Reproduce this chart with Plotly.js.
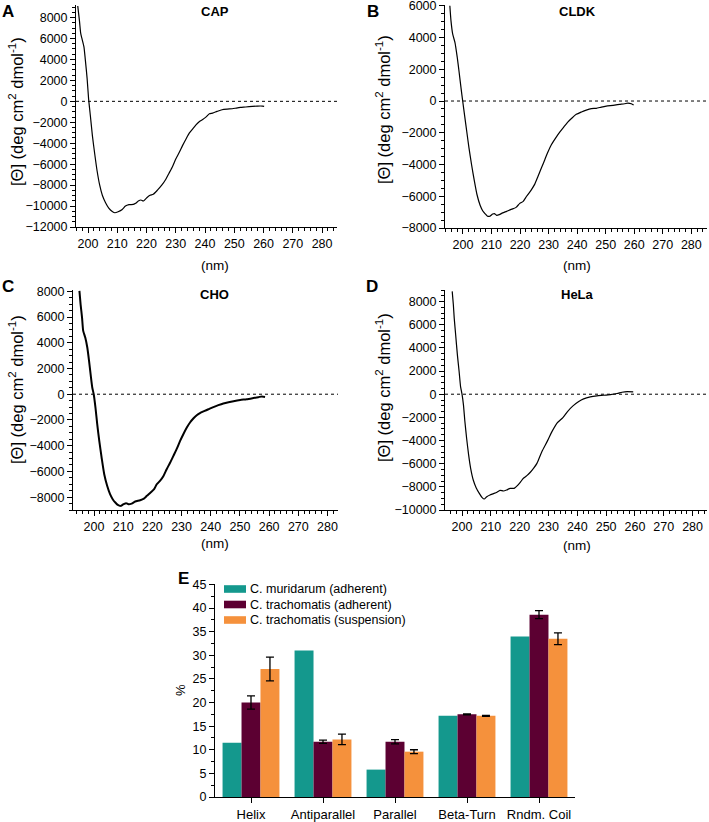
<!DOCTYPE html>
<html>
<head>
<meta charset="utf-8">
<script src="https://cdn.plot.ly/plotly-3.0.1.min.js"></script>
<style>
html,body{margin:0;padding:0;background:#fff;}
#chart{width:709px;height:822px;}
</style>
</head>
<body>
<div id="chart"></div>
<script>
// ---------- Data ----------
const capNm = [196.5,197.1,197.5,197.9,198.6,199.1,199.7,200.2,200.8,201.5,202.3,203.1,204.0,204.9,206.0,207.1,208.3,209.2,210.3,211.7,212.8,214.0,215.5,216.3,217.2,218.1,218.9,220.1,221.2,222.3,223.8,225.2,226.6,227.7,228.9,230.0,231.2,232.3,233.5,234.6,235.8,236.9,238.1,239.2,240.3,241.5,242.6,244.1,245.8,247.6,249.3,250.7,252.1,253.9,256.2,257.9,259.6,260.2];
const capTheta = [9100,7630,6510,6030,5220,3940,2180,260,-1350,-3270,-5030,-6630,-8010,-8970,-9680,-10190,-10510,-10640,-10540,-10320,-10000,-9870,-9840,-9740,-9520,-9420,-9520,-9200,-8970,-8880,-8460,-8010,-7440,-6860,-6220,-5510,-4870,-4230,-3590,-3040,-2630,-2240,-1920,-1730,-1510,-1190,-1120,-960,-800,-740,-710,-640,-580,-540,-480,-450,-450,-480];

const cldkNm = [195.4,195.8,196.4,197.2,198.0,198.6,199.3,199.9,200.6,201.3,202.1,203.0,204.0,204.9,206.0,206.9,207.7,208.6,209.4,210.4,211.0,211.8,212.7,213.9,215.3,216.7,217.6,218.6,219.9,221.1,222.3,224.0,225.2,226.3,227.5,228.7,229.8,231.0,232.5,233.9,235.3,236.8,238.3,239.7,241.5,243.2,245.0,246.7,248.5,250.2,252.6,254.9,256.6,257.8,259.0,259.8];
const cldkTheta = [6000,5050,4210,3680,2740,1890,840,0,-950,-1890,-2950,-4000,-5050,-5890,-6570,-6910,-7090,-7260,-7260,-7120,-7090,-7200,-7160,-7050,-6950,-6840,-6780,-6700,-6450,-6320,-6000,-5580,-5220,-4740,-4210,-3680,-3200,-2740,-2320,-1960,-1640,-1310,-1050,-840,-690,-570,-480,-460,-380,-320,-270,-210,-170,-130,-170,-250];

const choNm = [195.0,195.4,195.9,196.3,197.0,197.7,198.3,198.9,199.4,199.9,200.5,201.1,201.8,202.6,203.5,204.5,205.5,206.4,207.3,208.3,209.1,210.1,211.0,211.8,212.9,214.1,215.8,217.1,218.1,219.4,220.6,221.5,222.6,223.8,224.9,226.1,227.2,228.3,229.5,230.6,231.8,232.9,234.1,235.2,236.3,237.7,239.2,240.9,242.6,244.3,246.1,247.8,250.1,252.3,254.6,256.3,257.5,258.6];
const choTheta = [8030,6990,5960,4920,4400,3630,2590,1420,520,0,-1040,-2330,-3630,-4920,-6220,-7120,-7770,-8160,-8420,-8630,-8680,-8550,-8470,-8550,-8500,-8340,-8240,-8110,-7900,-7640,-7380,-7000,-6740,-6350,-5830,-5310,-4790,-4270,-3630,-3110,-2590,-2200,-1870,-1640,-1470,-1320,-1170,-1000,-850,-720,-620,-540,-450,-390,-300,-230,-170,-210];

const helaNm = [196.6,197.0,197.3,197.8,198.4,199.0,199.5,200.0,200.5,201.0,201.6,202.3,203.0,203.9,204.9,206.0,207.0,207.7,208.6,209.7,210.9,212.1,213.2,214.4,215.5,216.7,218.1,219.2,220.2,221.3,222.5,223.7,224.8,226.0,227.7,229.7,231.2,232.9,235.0,236.6,238.5,240.5,242.2,244.5,246.8,249.2,251.5,253.8,255.5,257.3,259.4];
const helaTheta = [8880,7720,6570,5130,3400,1960,660,0,-920,-2360,-3800,-5240,-6400,-7410,-8070,-8560,-8930,-9050,-8850,-8700,-8590,-8470,-8300,-8360,-8270,-8130,-8130,-7900,-7610,-7260,-7030,-6740,-6400,-5970,-4960,-4010,-3230,-2510,-2020,-1500,-1010,-630,-400,-230,-140,-90,-30,60,170,230,200];

const categories = ['Helix','Antiparallel','Parallel','Beta-Turn','Rndm. Coil'];
const muridarumAdh = [11.5, 31.0, 5.8, 17.2, 34.0];
const trachomatisAdh = [20.0, 11.7, 11.7, 17.5, 38.6];
const trachomatisAdhErr = [1.4, 0.35, 0.45, 0.1, 0.85];
const trachomatisSusp = [27.1, 12.2, 9.6, 17.2, 33.5];
const trachomatisSuspErr = [2.5, 1.1, 0.4, 0.1, 1.25];
const seriesNames = ['C. muridarum (adherent)','C. trachomatis (adherent)','C. trachomatis (suspension)'];
const seriesColors = ['#14988d','#5c0032','#f5913c'];

// ---------- Layout helpers ----------
const W = 709, H = 822;
const fx = p => p / W;
const fy = p => 1 - p / H;
const FONT = 'Liberation Sans, Arial, sans-serif';

function cdXAxis(l, r, range, anchor) {
  return {
    domain: [fx(l), fx(r)], range: range, anchor: anchor,
    showline: true, linecolor: 'black', linewidth: 1,
    ticks: 'outside', ticklen: 5, tickwidth: 1, tickcolor: 'black',
    tick0: 200, dtick: 10, showgrid: false, zeroline: false,
    tickfont: {size: 12.5, color: 'black', family: FONT},
    minor: {dtick: 2, ticklen: 3, tickwidth: 1, tickcolor: 'black', ticks: 'outside', showgrid: false}
  };
}
function cdYAxis(top, bottom, range, anchor) {
  return {
    domain: [fy(bottom), fy(top)], range: range, anchor: anchor,
    showline: true, linecolor: 'black', linewidth: 1,
    ticks: 'outside', ticklen: 5, tickwidth: 1, tickcolor: 'black',
    tick0: 0, dtick: 2000, tickformat: 'd', showgrid: false, zeroline: false,
    ticklabeloverflow: 'allow',
    tickfont: {size: 12.5, color: 'black', family: FONT},
    minor: {dtick: 500, ticklen: 3, tickwidth: 1, tickcolor: 'black', ticks: 'outside', showgrid: false}
  };
}

function cdTrace(x, y, xa, ya, w) {
  return {x: x, y: y, xaxis: xa, yaxis: ya, type: 'scatter', mode: 'lines',
    line: {color: 'black', width: w, shape: 'spline', smoothing: 0.6},
    showlegend: false, hoverinfo: 'skip'};
}

const traces = [
  cdTrace(capNm, capTheta, 'x', 'y', 1.2),
  cdTrace(cldkNm, cldkTheta, 'x2', 'y2', 1.2),
  cdTrace(choNm, choTheta, 'x3', 'y3', 2),
  cdTrace(helaNm, helaTheta, 'x4', 'y4', 1.2)
];

const barY = [muridarumAdh, trachomatisAdh, trachomatisSusp];
const barErr = [null, trachomatisAdhErr, trachomatisSuspErr];
for (let i = 0; i < 3; i++) {
  const t = {
    type: 'bar', x: categories, y: barY[i], name: seriesNames[i],
    xaxis: 'x5', yaxis: 'y5', marker: {color: seriesColors[i], line: {width: 0}},
    showlegend: false, hoverinfo: 'skip'
  };
  if (barErr[i]) t.error_y = {type: 'data', array: barErr[i], visible: true, color: 'black', thickness: 1.3, width: 4};
  traces.push(t);
}

function zeroLine(xa, ya) {
  return {type: 'line', xref: xa + ' domain', yref: ya, x0: 0, x1: 1, y0: 0, y1: 0,
    line: {color: 'black', width: 1, dash: 'dot'}};
}

function ann(text, px, py, size, opts) {
  return Object.assign({text: text, x: fx(px), y: fy(py), xref: 'paper', yref: 'paper',
    xanchor: 'center', yanchor: 'middle', showarrow: false,
    font: {size: size, color: 'black', family: FONT}}, opts || {});
}

const yTitle = '[Θ] (deg cm<sup>2</sup> dmol<sup>-1</sup>)';
const annotations = [
  ann('<b>A</b>', 8, 12, 17), ann('<b>B</b>', 373, 12, 17),
  ann('<b>C</b>', 8, 287, 17), ann('<b>D</b>', 372, 287, 17),
  ann('<b>E</b>', 183, 578, 17),
  ann('<b>CAP</b>', 215, 12, 13), ann('<b>CLDK</b>', 577, 12, 13),
  ann('<b>CHO</b>', 215, 295, 13), ann('<b>HeLa</b>', 577, 295, 13),
  ann('(nm)', 215, 265, 13.5), ann('(nm)', 577, 265, 13.5),
  ann('(nm)', 215, 543, 13.5), ann('(nm)', 577, 545, 13.5),
  ann(yTitle, 16, 112, 16.5, {textangle: -90}),
  ann(yTitle, 383, 110, 16.5, {textangle: -90}),
  ann(yTitle, 16, 390, 16.5, {textangle: -90}),
  ann(yTitle, 383, 388, 16.5, {textangle: -90}),
  ann('%', 180, 690, 13, {textangle: -90})
];

const shapes = [zeroLine('x', 'y'), zeroLine('x2', 'y2'), zeroLine('x3', 'y3'), zeroLine('x4', 'y4')];

// custom legend for panel E
const legendRows = [589, 604.5, 620];
for (let i = 0; i < 3; i++) {
  shapes.push({type: 'rect', xref: 'paper', yref: 'paper',
    x0: fx(224), x1: fx(246), y0: fy(legendRows[i] + 3.8), y1: fy(legendRows[i] - 3.8),
    fillcolor: seriesColors[i], line: {width: 0}});
  annotations.push(ann(seriesNames[i], 248, legendRows[i], 12.5, {xanchor: 'left'}));
}

const layout = {
  width: W, height: H, margin: {l: 0, r: 0, t: 0, b: 0},
  paper_bgcolor: 'white', plot_bgcolor: 'white',
  font: {family: FONT, color: 'black'},
  showlegend: false,
  xaxis: cdXAxis(76, 337, [195.9, 285.1], 'y'),
  yaxis: cdYAxis(5, 227, [-12000, 9200], 'x'),
  xaxis2: cdXAxis(445, 707, [193.7, 285.5], 'y2'),
  yaxis2: cdYAxis(5, 228, [-8000, 6050], 'x2'),
  xaxis3: cdXAxis(73, 338, [192.8, 283.6], 'y3'),
  yaxis3: cdYAxis(290, 510, [-9000, 8100], 'x3'),
  xaxis4: cdXAxis(445, 707, [194.1, 285.0], 'y4'),
  yaxis4: cdYAxis(290, 510, [-10000, 9000], 'x4'),
  xaxis5: {
    domain: [fx(215), fx(575)], anchor: 'y5', type: 'category',
    showline: true, linecolor: 'black', linewidth: 1,
    ticks: 'outside', ticklen: 5, tickcolor: 'black', showgrid: false, zeroline: false,
    tickfont: {size: 13, color: 'black', family: FONT}
  },
  yaxis5: {
    domain: [fy(797), fy(584)], anchor: 'x5', range: [0, 45.1],
    showline: true, linecolor: 'black', linewidth: 1,
    ticks: 'outside', ticklen: 5, tickcolor: 'black', dtick: 5, showgrid: false, zeroline: false,
    tickfont: {size: 12.5, color: 'black', family: FONT},
    minor: {dtick: 2.5, ticklen: 3, tickcolor: 'black', ticks: 'outside', showgrid: false}
  },
  barmode: 'group', bargap: 0.21, bargroupgap: 0,
  annotations: annotations, shapes: shapes
};

Plotly.newPlot('chart', traces, layout, {staticPlot: true, displayModeBar: false});
</script>
</body>
</html>
